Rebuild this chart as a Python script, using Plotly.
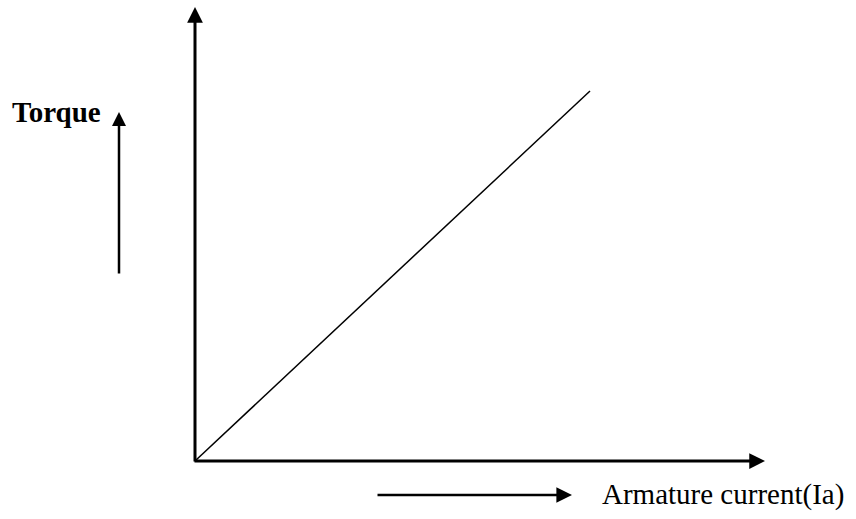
import plotly.graph_objects as go

# Data: torque vs armature current (linear characteristic)
armature_current = [0, 79]
torque = [0, 74]

W, H = 856, 519
PX = 5.0          # pixels per data unit
X0, Y0 = 195, 461  # pixel position of origin

x_range = [-X0 / PX, (W - X0) / PX]
y_range = [-(H - Y0) / PX, Y0 / PX]

def dx(px):
    return (px - X0) / PX

def dy(py):
    return (Y0 - py) / PX

fig = go.Figure()
fig.add_trace(go.Scatter(
    x=armature_current, y=torque, mode="lines",
    line=dict(color="black", width=1.5), hoverinfo="skip", showlegend=False))

def arrow(x0, y0, x1, y1, width, size):
    fig.add_annotation(
        x=x1, y=y1, ax=x0, ay=y0, xref="x", yref="y", axref="x", ayref="y",
        showarrow=True, arrowhead=2, arrowsize=size, arrowwidth=width,
        arrowcolor="black", standoff=0, startstandoff=0, text="")

# axes with arrowheads
arrow(0, dy(463), 0, dy(7), 3, 1.05)
arrow(dx(193), 0, dx(765), 0, 3, 1.05)
# indicator arrows
arrow(dx(119), dy(275), dx(119), dy(112), 2.5, 1.12)
arrow(dx(376), dy(495), dx(572), dy(495), 2.5, 1.25)

fig.add_annotation(
    x=10 / W, y=1 - 112 / H, xref="paper", yref="paper",
    xanchor="left", yanchor="middle", showarrow=False,
    text="<b>Torque</b>",
    font=dict(family="Liberation Serif", size=29, color="black"))
fig.add_annotation(
    x=600 / W, y=1 - 494 / H, xref="paper", yref="paper",
    xanchor="left", yanchor="middle", showarrow=False,
    text="Armature current(Ia)",
    font=dict(family="Liberation Serif", size=29, color="black"))

fig.update_layout(
    width=W, height=H,
    margin=dict(l=0, r=0, t=0, b=0),
    paper_bgcolor="white", plot_bgcolor="white",
    xaxis=dict(range=x_range, visible=False, fixedrange=True),
    yaxis=dict(range=y_range, visible=False, fixedrange=True),
)

fig.write_html(
    "out.html",
    config={"displayModeBar": False},
    post_script="document.body.style.margin='0';document.body.style.overflow='hidden';",
)
